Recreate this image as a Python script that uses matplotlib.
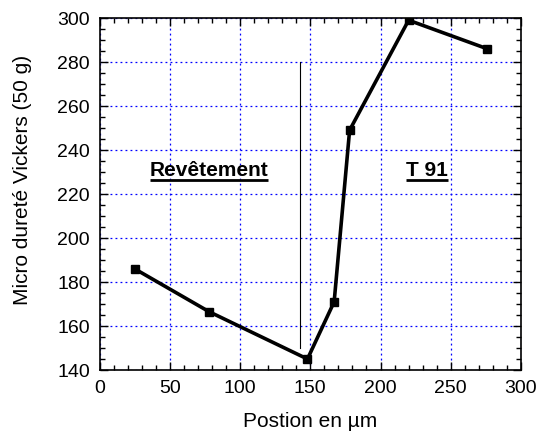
import matplotlib.pyplot as plt
from matplotlib.ticker import MultipleLocator

plt.rcParams['font.family'] = ['Liberation Sans', 'DejaVu Sans']

# data
position = [25, 78, 148, 167, 178, 220, 276]
hardness = [186, 166.5, 145, 171, 249, 299, 286]
interface_x = [143, 143]
interface_y = [150, 280]
labels = ['Revêtement', 'T 91']
label_x = [78, 233]
label_y = [228, 228]

fig = plt.figure(figsize=(5.42, 4.32), dpi=100)
ax = fig.add_axes([0.1836, 0.1435, 0.7777, 0.8148])

ax.plot(position, hardness, color='black', lw=2.6, marker='s', ms=6, zorder=3)
ax.plot(interface_x, interface_y, color='black', lw=0.8, zorder=3)

ax.set_xlim(0, 300)
ax.set_ylim(140, 300)
ax.xaxis.set_major_locator(MultipleLocator(50))
ax.xaxis.set_minor_locator(MultipleLocator(10))
ax.yaxis.set_major_locator(MultipleLocator(20))
ax.yaxis.set_minor_locator(MultipleLocator(5))
ax.tick_params(which='both', direction='in', top=True, right=True, labelsize=14, width=1, pad=7)
ax.tick_params(which='major', length=6)
ax.tick_params(which='minor', length=3.5)
ax.grid(True, which='major', color='blue', linestyle=(0, (1.5, 2.5)), lw=0.9)
for s in ax.spines.values():
    s.set_linewidth(1.2)

ax.set_xlabel('Postion en µm', fontsize=15)
ax.set_ylabel('Micro dureté Vickers (50 g)', fontsize=15)
ax.xaxis.set_label_coords(0.5, -0.145)
ax.xaxis.label.set_va('center')
ax.yaxis.set_label_coords(-0.183, 0.54)
ax.yaxis.label.set_va('center')

# bold labels with an underline drawn just under the baseline
fig.canvas.draw()
renderer = fig.canvas.get_renderer()
inv = ax.transData.inverted()
for txt, x, y in zip(labels, label_x, label_y):
    t = ax.text(x, y, txt, fontsize=15, fontweight='bold', ha='center', va='baseline', zorder=4)
    bb = t.get_window_extent(renderer)
    _, base = ax.transData.transform((x, y))
    (x0, y0), (x1, _) = inv.transform([(bb.x0, base - 4), (bb.x1, base - 4)])
    ax.plot([x0, x1], [y0, y0], color='black', lw=2, solid_capstyle='butt', zorder=4)

fig.savefig('out.png', dpi=100)
